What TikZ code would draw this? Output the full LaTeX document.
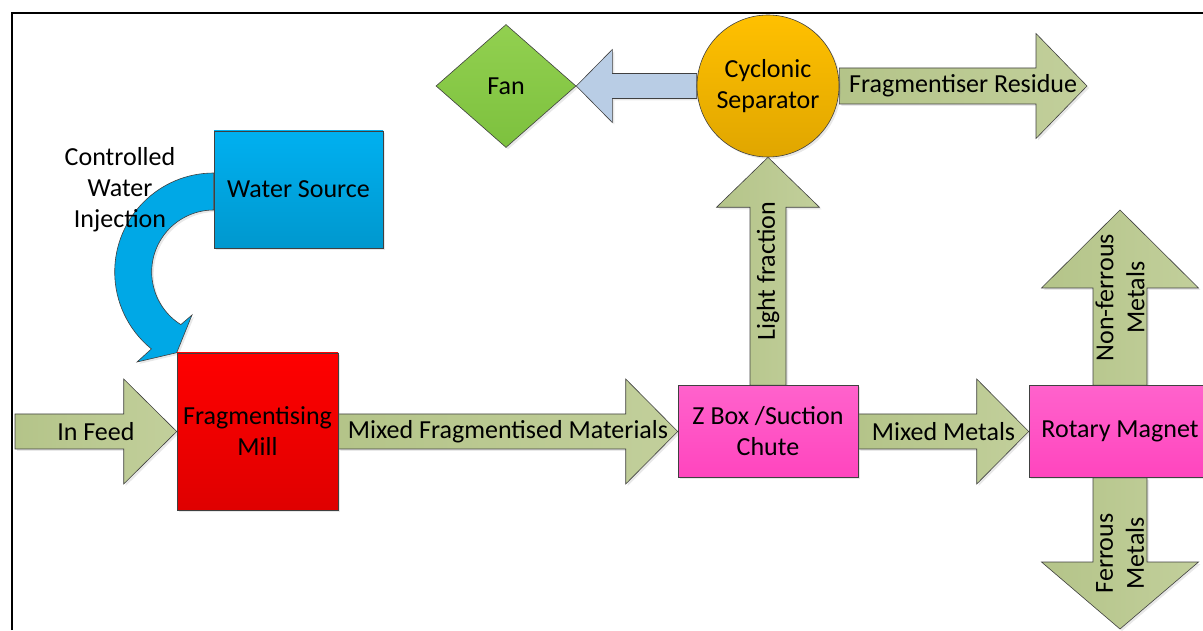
\documentclass[tikz,border=0pt]{standalone}
\usepackage{fontspec}
\setmainfont{Carlito}
\usetikzlibrary{calc,shapes.geometric,shadows,backgrounds}
\definecolor{olv}{HTML}{BBCA90}
\definecolor{olvL}{HTML}{C2CF9B}
\definecolor{olvD}{HTML}{B4C489}
\definecolor{paleblue}{HTML}{B9CDE5}
\definecolor{wsTop}{HTML}{00B0F0}
\definecolor{wsBot}{HTML}{0098CE}
\definecolor{cyanA}{HTML}{00A8E6}
\definecolor{millTop}{HTML}{FF0000}
\definecolor{millBot}{HTML}{DF0000}
\definecolor{pinkTop}{HTML}{FF62CC}
\definecolor{pinkBot}{HTML}{FF45BE}
\definecolor{orTop}{HTML}{FFC000}
\definecolor{orBot}{HTML}{E0A600}
\definecolor{fanTop}{HTML}{92D050}
\definecolor{fanBot}{HTML}{7DC13E}
\definecolor{edge}{HTML}{404040}
% #1 style, #2 from, #3 to, #4 shaft half width, #5 head half width, #6 head length
\newcommand\blockarrow[6]{%
  \coordinate (ba-h) at ($(#3)!#6!(#2)$);
  \path[#1] ($(#2)!#4!90:(#3)$) -- ($(ba-h)!#4!-90:(#2)$) -- ($(ba-h)!#5!-90:(#2)$)
    -- (#3) -- ($(ba-h)!#5!90:(#2)$) -- ($(ba-h)!#4!90:(#2)$) -- ($(#2)!#4!-90:(#3)$) -- cycle;
}
\tikzset{
  shd/.style={drop shadow={opacity=0.18, shadow xshift=2pt, shadow yshift=-2pt}},
  box/.style={draw=edge, line width=0.6pt, inner sep=0pt, align=center, shd},
  garrow/.style={draw=edge, line width=0.6pt, left color=olvD, right color=olvL, shd},
  parrow/.style={draw=edge, line width=0.6pt, fill=paleblue, shd},
  carrow/.style={draw=edge, line width=0.6pt, fill=cyanA, shd},
  lbl/.style={inner sep=0pt, align=center},
  frameline/.style={line width=1.5pt, black}
}
\begin{document}
\begin{tikzpicture}[x=1pt, y=1pt, font=\fontsize{26}{31}\selectfont]
\useasboundingbox (0,0) rectangle (1203,630);
\draw[frameline] (12,0) -- (12,617) -- (1203,617);

% nodes
\node[box, top color=wsTop, bottom color=wsBot, minimum width=169pt, minimum height=117pt] (water) at (298.5,440.5) {Water Source};
\node[box, top color=millTop, bottom color=millBot, minimum width=161pt, minimum height=157pt] (mill) at (257.5,198.5) {Fragmentising\\Mill};
\node[box, top color=pinkTop, bottom color=pinkBot, minimum width=180pt, minimum height=92pt] (zbox) at (768,198.5) {Z Box /Suction\\Chute};
\node[box, top color=pinkTop, bottom color=pinkBot, minimum width=182pt, minimum height=92pt] (rotary) at (1120,198.5) {Rotary Magnet};
\node[box, circle, top color=orTop, bottom color=orBot, minimum size=142pt] (cyc) at (768,544) {Cyclonic\\Separator};
\node[box, diamond, top color=fanTop, bottom color=fanBot, minimum width=140pt, minimum height=123pt, aspect=1.14] (fan) at (506,544) {Fan};

\coordinate (feed) at (15,198.5);
\coordinate (res) at (1087,544);
\coordinate (nf) at (1120,420);
\coordinate (fe) at (1120,1);

\begin{pgfonlayer}{background}
\blockarrow{garrow}{feed}{mill.west}{17.5pt}{52.5pt}{53pt}
\blockarrow{garrow}{mill.east}{zbox.west}{17.5pt}{52.5pt}{52pt}
\blockarrow{garrow}{zbox.east}{rotary.west}{17.5pt}{52.5pt}{52pt}
\blockarrow{garrow}{zbox.north}{cyc.south}{18pt}{51.5pt}{50pt}
\blockarrow{parrow}{cyc.west}{fan.east}{12.5pt}{36.5pt}{36pt}
\blockarrow{garrow}{cyc.east}{res}{18pt}{52.5pt}{51pt}
\blockarrow{garrow}{rotary.north}{nf}{27pt}{78.5pt}{78pt}
\blockarrow{garrow}{rotary.south}{fe}{27pt}{78.5pt}{67pt}
% curved water injection arrow
\coordinate (arcc) at ($(water.west)+(0,-82.5)$);
\path[carrow] ($(water.west)+(0,16.5)$) arc[start angle=90, end angle=231, radius=99]
  -- (137,268) -- (mill.north west) -- (192,315)
  -- ($(arcc)+(238:62)$) arc[start angle=238, end angle=90, radius=62] -- cycle;
\end{pgfonlayer}

% labels
\node[lbl] (lfeed) at ($(feed)!0.5!(mill.west)$) {In Feed};
\node[lbl] (lmfm) at ($(mill.east)!0.5!(zbox.west)$) {Mixed Fragmentised Materials};
\node[lbl] (lmm) at ($(zbox.east)!0.5!(rotary.west)$) {Mixed Metals};
\node[lbl] (lres) at ($(cyc.east)!0.5!(res)$) {Fragmentiser Residue};
\node[lbl, rotate=90] (llight) at ($(zbox.north)!0.5!(cyc.south)$) {Light fraction};
\node[lbl, rotate=90] (lnf) at ($(rotary.north)!0.5!(nf)$) {Non-ferrous\\Metals};
\node[lbl, rotate=90] (lfe) at ($(rotary.south)!0.5!(fe)$) {Ferrous\\Metals};
\node[lbl] (lwater) at (120,440) {Controlled\\Water\\Injection};
\end{tikzpicture}
\end{document}
